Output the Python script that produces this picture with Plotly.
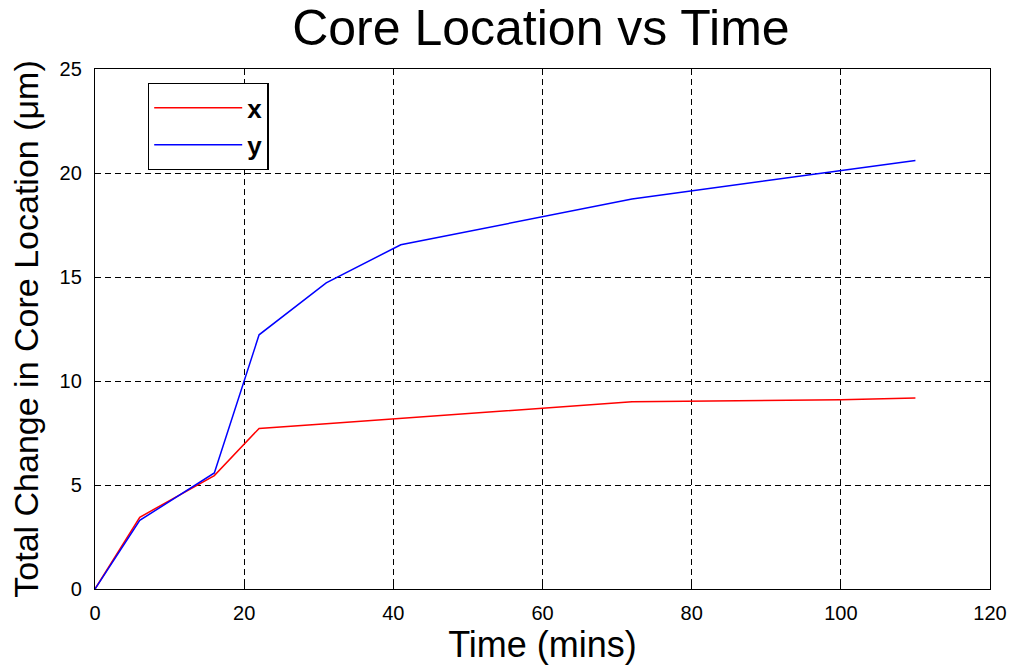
import plotly.graph_objects as go

time_mins = [0, 6, 16, 22, 31, 41, 72, 100, 110]
x_change = [0, 3.45, 5.45, 7.72, 7.95, 8.2, 9.0, 9.1, 9.18]
y_change = [0, 3.3, 5.58, 12.22, 14.72, 16.55, 18.75, 20.12, 20.6]

FONT = "Liberation Sans, Arial"

fig = go.Figure()
fig.add_trace(go.Scatter(x=time_mins, y=x_change, mode="lines", name="x",
                         line=dict(color="#ff0000", width=1.5)))
fig.add_trace(go.Scatter(x=time_mins, y=y_change, mode="lines", name="y",
                         line=dict(color="#0000ff", width=1.5)))

axis_common = dict(showline=True, linecolor="black", linewidth=1.4, mirror="allticks",
                   ticks="inside", ticklen=6, tickcolor="black", tickwidth=1.2,
                   showgrid=True, gridcolor="black", griddash="6px,4px", gridwidth=1.2,
                   zeroline=False, automargin=False,
                   tickfont=dict(family=FONT, size=20, color="black"))

fig.update_layout(
    width=1011, height=665,
    paper_bgcolor="white", plot_bgcolor="white",
    margin=dict(l=95, r=21, t=69, b=76),
    title=dict(text="Core Location vs Time", x=0.535, xanchor="center",
               y=0.958, yanchor="middle", automargin=False,
               font=dict(family=FONT, size=50, color="black")),
    xaxis=dict(range=[0, 120], tickvals=[0, 20, 40, 60, 80, 100, 120],
               ticklabelstandoff=6,
               title=dict(text="Time (mins)", standoff=4,
                          font=dict(family=FONT, size=36, color="black")),
               **axis_common),
    yaxis=dict(range=[0, 25], tickvals=[0, 5, 10, 15, 20, 25],
               ticklabelstandoff=8,
               title=dict(text="Total Change in Core Location (μm)", standoff=10,
                          font=dict(family=FONT, size=34, color="black")),
               **axis_common),
    legend=dict(x=0.059, y=0.973, xanchor="left", yanchor="top",
                bgcolor="white", bordercolor="black", borderwidth=1.4,
                font=dict(family=FONT, size=26, color="black", weight="bold"),
                itemwidth=88, tracegroupgap=0),
    showlegend=True,
)

fig.write_html("out.html", config={"displayModeBar": False},
               post_script="document.body.style.margin='0';document.body.style.overflow='hidden';")
